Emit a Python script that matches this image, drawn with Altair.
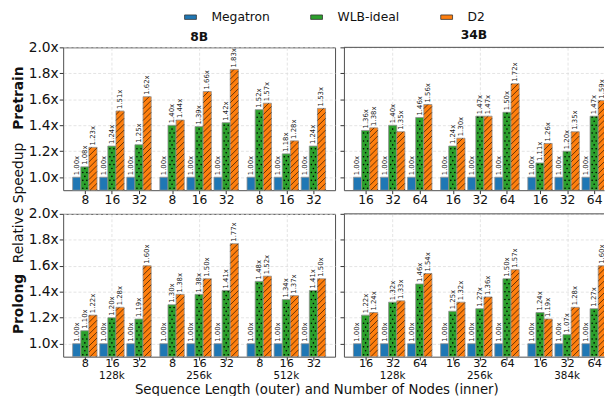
import altair as alt
import pandas as pd

# ---------------- data ----------------
series_names = ["Megatron", "WLB-ideal", "D2"]
series_colors = ["#1f77b4", "#2ca02c", "#ff7f0e"]

seq_8b = ["128k", "256k", "512k"]
nodes_8b = ["8", "16", "32"]
seq_34b = ["128k", "256k", "384k"]
nodes_34b = ["16", "32", "64"]

megatron_all = [1.00, 1.00, 1.00, 1.00, 1.00, 1.00, 1.00, 1.00, 1.00]

pretrain_8b_wlb = [1.08, 1.24, 1.25, 1.40, 1.39, 1.42, 1.52, 1.18, 1.24]
pretrain_8b_d2 = [1.23, 1.51, 1.62, 1.44, 1.66, 1.83, 1.57, 1.28, 1.53]
pretrain_34b_wlb = [1.36, 1.40, 1.46, 1.24, 1.47, 1.50, 1.11, 1.20, 1.47]
pretrain_34b_d2 = [1.38, 1.35, 1.56, 1.30, 1.47, 1.72, 1.26, 1.35, 1.59]
prolong_8b_wlb = [1.10, 1.20, 1.19, 1.30, 1.38, 1.41, 1.48, 1.34, 1.41]
prolong_8b_d2 = [1.22, 1.28, 1.60, 1.38, 1.50, 1.77, 1.52, 1.37, 1.50]
prolong_34b_wlb = [1.22, 1.32, 1.46, 1.25, 1.27, 1.50, 1.24, 1.07, 1.27]
prolong_34b_d2 = [1.24, 1.33, 1.54, 1.32, 1.36, 1.57, 1.19, 1.28, 1.60]

panels = [
    ("Pretrain", "8B", seq_8b, nodes_8b, megatron_all, pretrain_8b_wlb, pretrain_8b_d2),
    ("Pretrain", "34B", seq_34b, nodes_34b, megatron_all, pretrain_34b_wlb, pretrain_34b_d2),
    ("Prolong", "8B", seq_8b, nodes_8b, megatron_all, prolong_8b_wlb, prolong_8b_d2),
    ("Prolong", "34B", seq_34b, nodes_34b, megatron_all, prolong_34b_wlb, prolong_34b_d2),
]

rows = []
for phase, model, seqs, nodes, meg, wlb, d2 in panels:
    for g in range(3):
        for i in range(3):
            idx = g * 3 + i
            for k, (s, vals) in enumerate(zip(series_names, [meg, wlb, d2])):
                rows.append(dict(phase=phase, model=model, g=g, i=i,
                                 seq=seqs[g], nodes=nodes[i], series=s, k=k,
                                 value=vals[idx]))
df = pd.DataFrame(rows)

# ---------------- layout / style ----------------
W_LEFT, W_RIGHT, H = 276, 264, 145
YMIN, YMAX = 0.9, 2.0
GAP = 0.22      # extra gap between sequence-length groups (in slot units)
BW = 0.3        # bar width (slot units)
XPAD = 0.8
XMIN = -XPAD
XMAX = 8 + 2 * GAP + XPAD
PX = W_LEFT / (XMAX - XMIN)
PY = H / (YMAX - YMIN)
BWPX = BW * PX
HS = 6.0        # hatch spacing (px)
DS = 4.0        # dot row spacing (px)
D0 = 2.0
FONT = "DejaVu Sans"
FRAME = "#4d4d4d"


def slot(g, i):
    return i + g * (3 + GAP)


tick_vals = [round(slot(g, i), 4) for g in range(3) for i in range(3)]
grid_test = " || ".join(f"abs(datum.value - {slot(g, 1):.4f}) < 0.01" for g in range(3))


def xlabel_expr(nodes):
    expr = "''"
    for g in reversed(range(3)):
        for i in reversed(range(3)):
            p = slot(g, i)
            expr = f"abs(datum.value - {p:.4f}) < 0.01 ? '{nodes[i]}' : ({expr})"
    return expr


legend = alt.Legend(
    title=None, orient="none", legendX=123, legendY=-37, direction="horizontal",
    symbolType="M-1.2,-0.45H1.2V0.45H-1.2Z", symbolSize=100,
    labelFont=FONT, labelFontSize=12.5, labelColor="#111", labelOffset=15,
    columnPadding=39, symbolStrokeColor="#333", symbolStrokeWidth=0.8,
    symbolOpacity=1,
)


def panel(phase, model, seqs, nodes, top, left):
    width = W_LEFT if left else W_RIGHT
    xmax = XMIN + width / PX
    xs = alt.Scale(domain=[XMIN, xmax], nice=False, zero=False)
    ys = alt.Scale(domain=[YMIN, YMAX], nice=False, zero=False)
    clip = not left

    base = (
        alt.Chart(df)
        .transform_filter((alt.datum.phase == phase) & (alt.datum.model == model))
        .transform_calculate(pos=f"datum.i + datum.g * {3 + GAP}")
        .transform_calculate(xl=f"datum.pos + (datum.k - 1.5) * {BW}")
        .transform_calculate(xr=f"datum.xl + {BW}")
        .transform_calculate(xc=f"datum.xl + {BW / 2}")
        .transform_calculate(hpx=f"(datum.value - {YMIN}) * {PY}")
        .transform_calculate(lbl="format(datum.value, '.2f') + 'x'")
    )

    xaxis_kw = dict(
        values=tick_vals, tickCount=50, labelExpr=xlabel_expr(nodes),
        labelFontSize=12.5 if top else 11.5, labelPadding=(0.5 if top else -3),
        tickSize=3.5,
        grid=True, gridOpacity={"condition": {"test": grid_test, "value": 1}, "value": 0},
        labelOverlap=False, labelBound=False, labelFlush=False,
    )
    if not left:
        xaxis_kw.update(domain=True, domainColor=FRAME, domainWidth=1)
    if (not top) and left:
        xaxis_kw.update(title="Sequence Length (outer) and Number of Nodes (inner)",
                        titleFontSize=13.5, titleFontWeight="normal",
                        titleX=320 - 63, titleY=33, titleAlign="center",
                        titleBaseline="middle")
    else:
        xaxis_kw.update(title=None)
    xaxis = alt.Axis(**xaxis_kw)

    yaxis_kw = dict(values=[1.0, 1.2, 1.4, 1.6, 1.8, 2.0], tickCount=50, tickSize=4,
                    labelPadding=1, grid=True, labelOverlap=False)
    if left:
        yaxis_kw.update(
            labelExpr="format(datum.value, '.1f') + 'x'", labelFontSize=14,
            title=phase, titleFontSize=14, titleFontWeight="bold",
            titleAngle=270, titleX=-45, titleY=(51 if top else 91),
            titleAlign="center", titleBaseline="middle",
        )
    else:
        yaxis_kw.update(labels=False, title=None, domain=True, domainColor=FRAME,
                        domainWidth=1)
    yaxis = alt.Axis(**yaxis_kw)

    bars = base.mark_bar(stroke="#8f8f8f", strokeWidth=0.8, clip=clip).encode(
        x=alt.X("xl:Q", scale=xs, axis=xaxis),
        x2="xr:Q",
        y=alt.Y("value:Q", scale=ys, axis=yaxis),
        y2=alt.datum(YMIN),
        color=alt.Color("series:N",
                        scale=alt.Scale(domain=series_names, range=series_colors),
                        legend=legend),
    )

    dots = (
        base.transform_filter(alt.datum.series == "WLB-ideal")
        .transform_calculate(rr=f"sequence(0, floor((datum.hpx - {D0} - 1) / {DS}) + 1)")
        .transform_flatten(["rr"])
        .transform_calculate(cc=f"datum.rr % 2 == 0 ? [{BWPX * 0.25:.2f}, {BWPX * 0.75:.2f}] : [{BWPX * 0.5:.2f}]")
        .transform_flatten(["cc"])
        .transform_calculate(dotx=f"datum.xl + datum.cc / {PX}")
        .transform_calculate(doty=f"{YMIN} + ({D0} + datum.rr * {DS}) / {PY}")
        .mark_circle(size=2.6, color="black", opacity=1, clip=clip)
        .encode(x=alt.X("dotx:Q", scale=xs, axis=xaxis),
                y=alt.Y("doty:Q", scale=ys, axis=yaxis))
    )

    hatch = (
        base.transform_filter(alt.datum.series == "D2")
        .transform_calculate(kk=f"sequence(0, ceil((datum.hpx + {BWPX}) / {HS}) + 1)")
        .transform_flatten(["kk"])
        .transform_calculate(cc=f"datum.kk * {HS} - {BWPX} + 1")
        .transform_calculate(xs0="max(0, -datum.cc)")
        .transform_calculate(xe0=f"min({BWPX}, datum.hpx - datum.cc)")
        .transform_filter("datum.xe0 - datum.xs0 > 0.3")
        .transform_calculate(hx1=f"datum.xl + datum.xs0 / {PX}")
        .transform_calculate(hx2=f"datum.xl + datum.xe0 / {PX}")
        .transform_calculate(hy1=f"{YMIN} + (datum.xs0 + datum.cc) / {PY}")
        .transform_calculate(hy2=f"{YMIN} + (datum.xe0 + datum.cc) / {PY}")
        .mark_rule(color="black", strokeWidth=0.6, clip=clip)
        .encode(x=alt.X("hx1:Q", scale=xs, axis=xaxis), x2="hx2:Q",
                y=alt.Y("hy1:Q", scale=ys, axis=yaxis), y2="hy2:Q")
    )

    labels = base.mark_text(
        angle=270, align="left", baseline="middle", dx=2, fontSize=7,
        font=FONT, color="#222", clip=clip,
    ).encode(
        x=alt.X("xc:Q", scale=xs, axis=xaxis),
        y=alt.Y("value:Q", scale=ys, axis=yaxis),
        text="lbl:N",
    )

    layers = [bars, dots, hatch, labels]
    if not top:
        # outer (sequence length) labels under the middle node count of each group
        outer = base.transform_filter((alt.datum.k == 0) & (alt.datum.i == 1)).mark_text(
            fontSize=10.5, font=FONT, color="#111", baseline="middle", align="center",
        ).encode(
            x=alt.X("pos:Q", scale=xs, axis=xaxis),
            y=alt.value(H + 20),
            text="seq:N",
        )
        layers.append(outer)
    if not left:
        # top border of the open-ended right panel
        top_edge = alt.Chart(pd.DataFrame({"e": [0]})).mark_rule(
            color=FRAME, strokeWidth=1).encode(
            x=alt.value(0), x2=alt.value(width), y=alt.value(0))
        layers.append(top_edge)
    if left and not top:
        ylab = alt.Chart(pd.DataFrame({"t": ["Relative Speedup"]})).mark_text(
            angle=270, align="center", baseline="middle", fontSize=14, font=FONT,
            color="#111",
        ).encode(x=alt.value(-45), y=alt.value(201 - 212), text="t:N")
        layers.append(ylab)

    ch = alt.layer(*layers).properties(width=width, height=H)
    if not left:
        ch = ch.properties(view=alt.ViewBackground(stroke=None))
    if top:
        ch = ch.properties(title=alt.TitleParams(
            model, fontSize=12.5, fontWeight="bold", font=FONT, color="#111",
            anchor="middle", offset=(-3 if left else 5)))
    return ch


tl = panel("Pretrain", "8B", seq_8b, nodes_8b, True, True)
tr = panel("Pretrain", "34B", seq_34b, nodes_34b, True, False)
bl = panel("Prolong", "8B", seq_8b, nodes_8b, False, True)
br = panel("Prolong", "34B", seq_34b, nodes_34b, False, False)

chart = (
    alt.concat(tl, tr, bl, br, columns=2, spacing={"row": 24, "column": 9}, bounds="flush")
    .properties(padding={"left": 3, "top": 0, "right": 0, "bottom": 0})
    .configure_view(stroke=FRAME, strokeWidth=1)
    .configure_axis(labelFont=FONT, titleFont=FONT, labelColor="#111", titleColor="#111",
                    tickColor="#333", domain=False, gridColor="#dcdcdc",
                    gridDash=[3, 2], gridWidth=0.8)
    .configure_title(font=FONT, color="#111")
)

chart.save("out.html", embed_options={"renderer": "svg", "actions": False})
